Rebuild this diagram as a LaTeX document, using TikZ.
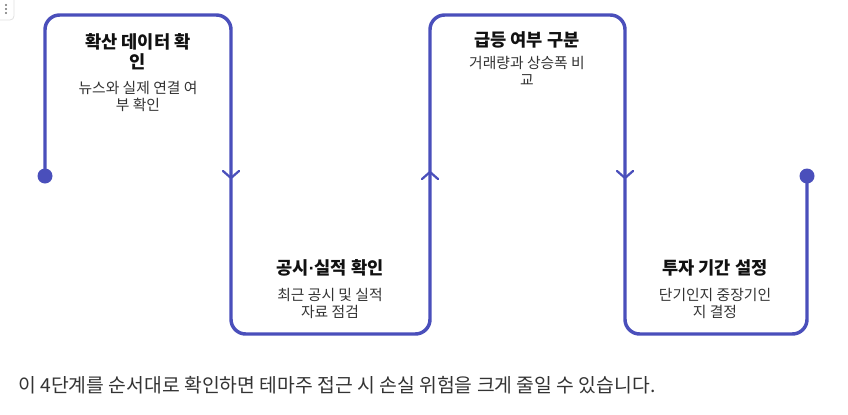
\documentclass[tikz,border=0pt]{standalone}
\usepackage{fontspec}
\setmainfont{Noto Sans CJK KR}
\newfontfamily\latinf{Liberation Sans}
\definecolor{flow}{RGB}{74,79,187}
\definecolor{subtxt}{RGB}{51,51,51}
\definecolor{tittxt}{RGB}{17,17,17}
\begin{document}
\begin{tikzpicture}[x=0.75pt,y=-0.75pt,
  flowline/.style={draw=flow,line width=2.6pt,rounded corners=11pt,line join=round},
  chev/.style={draw=flow,line width=1.7pt,line cap=round,line join=miter},
  titlebox/.style={font=\fontsize{13.2}{15}\selectfont\bfseries,text=tittxt,align=center,inner sep=0pt},
  subbox/.style={font=\fontsize{11.1}{12.8}\selectfont,text=subtxt,align=center,inner sep=0pt},
  note/.style={font=\fontsize{14.5}{16}\selectfont,text=subtxt,anchor=west,inner sep=0pt}]
\useasboundingbox (0,0) rectangle (848,414);
% menu icon
\draw[black!12,line width=0.6pt,rounded corners=3pt] (-4,-4) rectangle (14,20);
\foreach \yy in {5,9,13} \fill[black!55] (6,\yy) circle (1.1);
% coordinates
\coordinate (s) at (45,176);
\coordinate (e) at (807,176);
\draw[flowline] (s) -- (45,15) -- (231,15) -- (231,334) -- (430,334) -- (430,15) -- (625,15) -- (625,334) -- (807,334) -- (e);
\fill[flow] (s) circle (7.5);
\fill[flow] (e) circle (7.5);
% chevrons
\draw[chev] (223,171) -- (231,178) -- (239,171);
\draw[chev] (422,179) -- (430,172) -- (438,179);
\draw[chev] (617,171) -- (625,178) -- (633,171);
% texts
\node[titlebox] (t1) at (138,52) {확산 데이터 확\\인};
\node[subbox] (d1) at (138,96) {뉴스와 실제 연결 여\\부 확인};
\node[titlebox] (t2) at (330,268) {공시{\latinf\bfseries ·}실적 확인};
\node[subbox] (d2) at (330,303) {최근 공시 및 실적\\자료 점검};
\node[titlebox] (t3) at (527,40) {급등 여부 구분};
\node[subbox] (d3) at (527,71) {거래량과 상승폭 비\\교};
\node[titlebox] (t4) at (715,268) {투자 기간 설정};
\node[subbox] (d4) at (715,303) {단기인지 중장기인\\지 결정};
\node[note] (n) at (18,385) {이 4단계를 순서대로 확인하면 테마주 접근 시 손실 위험을 크게 줄일 수 있습니다.};
\end{tikzpicture}
\end{document}
